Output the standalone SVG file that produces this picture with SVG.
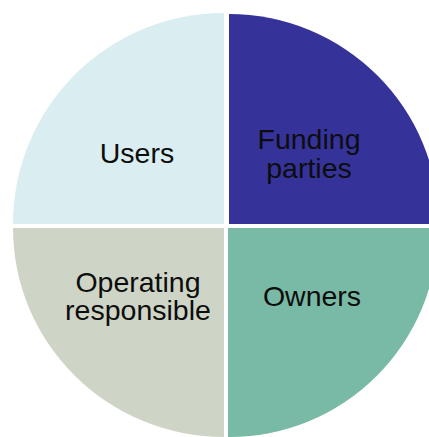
<svg xmlns="http://www.w3.org/2000/svg" width="429" height="437" viewBox="0 0 429 437">
<style>
.lbl{font-family:"Liberation Sans",Arial,sans-serif;font-size:28.5px;fill:#0d0d0d;text-anchor:middle}
</style>
<rect width="429" height="437" fill="#ffffff"/>
<g id="users">
<path d="M224,224 L13,224 A211,211 0 0 1 224,13 Z" fill="#DAEDF0"/>
<text class="lbl" x="137" y="162.5">Users</text>
</g>
<g id="funding">
<path d="M229,224 L229,14 A210,210 0 0 1 439,224 Z" fill="#35339A"/>
<text class="lbl" x="309" y="149">Funding</text>
<text class="lbl" x="309" y="177.5">parties</text>
</g>
<g id="owners">
<path d="M228,228 L438,228 A209,209 0 0 1 228,437 Z" fill="#78BAA5"/>
<text class="lbl" x="312" y="305.7">Owners</text>
</g>
<g id="operating">
<path d="M224,228 L224,437 A211,209 0 0 1 13,228 Z" fill="#CED5C6"/>
<text class="lbl" x="138" y="291.5">Operating</text>
<text class="lbl" x="138" y="320">responsible</text>
</g>
<g id="connectors"></g>
</svg>
